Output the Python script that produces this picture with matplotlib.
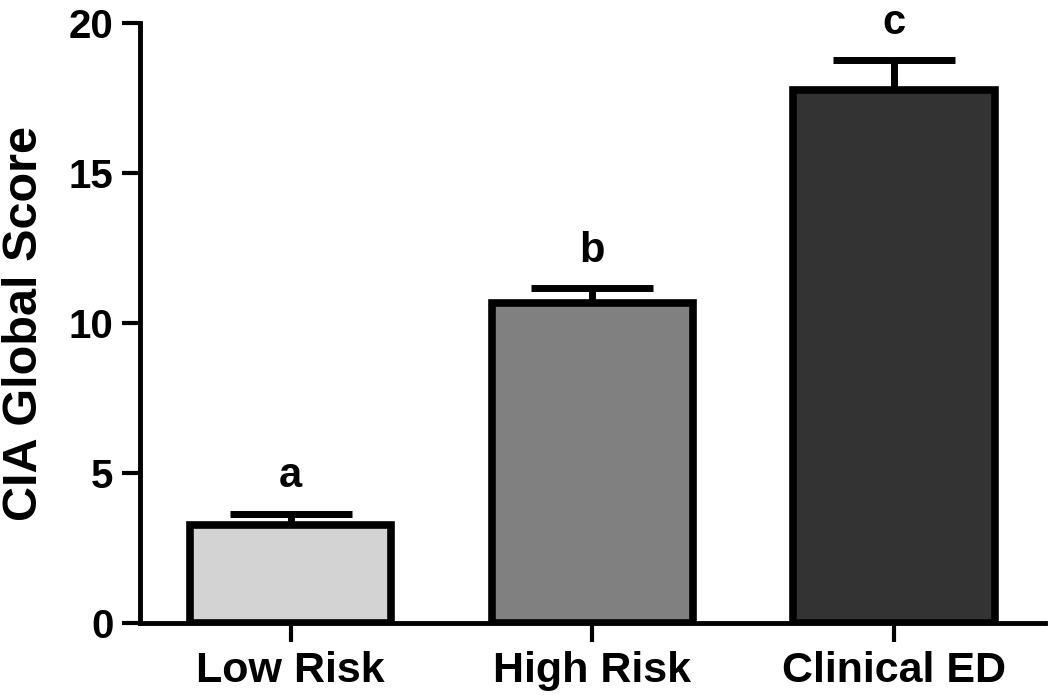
import matplotlib
matplotlib.use("Agg")
import matplotlib.pyplot as plt

# values
groups = ["Low Risk", "High Risk", "Clinical ED"]
means = [3.27, 10.67, 17.77]
errs = [0.37, 0.5, 1.0]
letters = ["a", "b", "c"]
colors = ["#d3d3d3", "#808080", "#333333"]

plt.rcParams["font.family"] = ["Liberation Sans", "DejaVu Sans"]
plt.rcParams["font.weight"] = "bold"

fig = plt.figure(figsize=(10.5, 6.99), dpi=100)
ax = fig.add_axes([0.1333, 0.1087, 0.8617, 0.8584])

x = range(len(groups))
ax.errorbar(x, means, yerr=[[0] * len(errs), errs], fmt="none", ecolor="black",
            elinewidth=5, capsize=44, capthick=5, zorder=1)
ax.bar(x, means, width=0.667, color=colors, edgecolor="black", linewidth=5.5, zorder=2)

for i in x:
    ax.annotate(letters[i], (i, means[i] + errs[i]), xytext=(0, 19),
                textcoords="offset points", ha="center", va="baseline",
                fontsize=30, fontweight="bold")

ax.set_xlim(-0.5, 2.5)
ax.set_ylim(0, 20)
ax.set_yticks([0, 5, 10, 15, 20])
ax.set_xticks(list(x))
ax.set_xticklabels(groups)
ax.set_ylabel("CIA Global Score", fontsize=35, fontweight="bold", labelpad=16)

for s in ["top", "right"]:
    ax.spines[s].set_visible(False)
for s in ["left", "bottom"]:
    ax.spines[s].set_linewidth(3.5)

ax.tick_params(axis="y", length=13, width=3, pad=6, labelsize=29)
ax.tick_params(axis="x", length=14, width=3, pad=6, labelsize=31)
for lab in ax.get_xticklabels() + ax.get_yticklabels():
    lab.set_fontweight("bold")

fig.savefig("out.png", dpi=100)
